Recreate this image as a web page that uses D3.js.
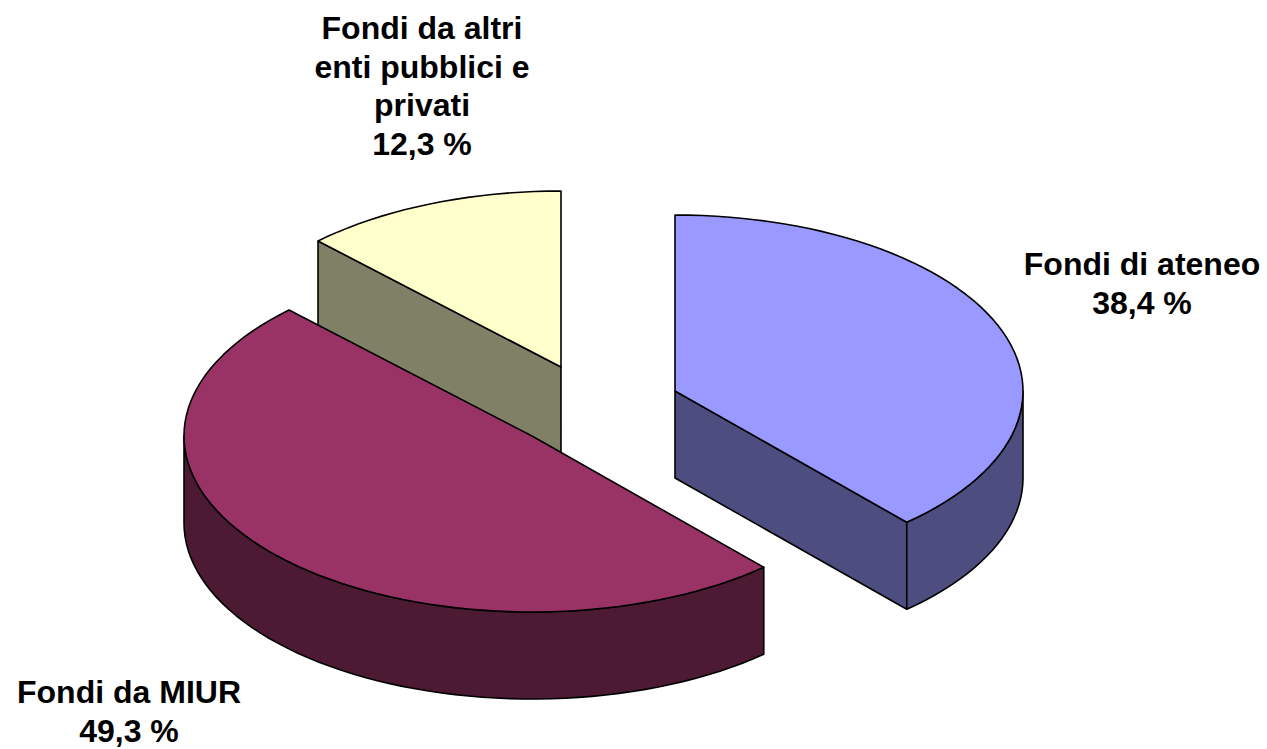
<!DOCTYPE html>
<html>
<head>
<meta charset="utf-8">
<script src="https://cdn.jsdelivr.net/npm/d3@7"></script>
<style>
html,body{margin:0;padding:0;background:#fff;overflow:hidden}
svg{display:block}
text{font-family:"Liberation Sans",Arial,sans-serif;font-weight:bold;fill:#000}
</style>
</head>
<body>
<svg id="chart" width="1267" height="749"></svg>
<script>
const categories = ["Fondi di ateneo", "Fondi da MIUR", "Fondi da altri enti pubblici e privati"];
const values = [38.4, 49.3, 12.3];
const valueLabels = ["38,4 %", "49,3 %", "12,3 %"];
const labelLines = [["Fondi di ateneo"], ["Fondi da MIUR"], ["Fondi da altri", "enti pubblici e", "privati"]];
const topColors = ["#9999FF", "#993366", "#FFFFCC"];
const sideColors = ["#4D4D80", "#4D1A33", "#808066"];

const W = 1267, H = 749;
const RX = 348, RY = 176, DEPTH = 87;
const centers = [[675, 391], [532, 436], [561, 367]];
const labelPos = [[1142, 275], [129, 703], [422, 39]];
const LINE = 38.5;

const svg = d3.select("#chart");
const arcs = d3.pie().value(d => d).sort(null)(values);

// unit-circle to screen scales
const sx = d3.scaleLinear().domain([-1, 1]).range([-RX, RX]);
const sy = d3.scaleLinear().domain([-1, 1]).range([-RY, RY]);
const line = d3.line().x(d => d[0]).y(d => d[1]);

function rim(c, a0, a1, dz) {
  const n = Math.max(2, Math.ceil(Math.abs(a1 - a0) / 0.04));
  return d3.range(n + 1).map(i => {
    const a = a0 + (a1 - a0) * i / n;
    return [c[0] + sx(Math.sin(a)), c[1] + sy(-Math.cos(a)) + dz];
  });
}
const drawOrder = [2, 0, 1];
const PI = Math.PI;

drawOrder.forEach(i => {
  const d = arcs[i], c = centers[i];
  const g = svg.append("g");
  const s = {fill: sideColors[i], stroke: "#000", "stroke-width": 1.6, "stroke-linejoin": "round"};
  const paint = (pts, attrs) => {
    const p = g.append("path").attr("d", line(pts) + "Z");
    Object.entries(attrs).forEach(([k, v]) => p.attr(k, v));
  };

  // cut walls that face the viewer
  [d.startAngle, d.endAngle].forEach((a, k) => {
    const edge = rim(c, a, a, 0)[0];
    const sinA = Math.sin(a);
    const facing = k === 0 ? sinA < -1e-6 : sinA > 1e-6;
    if (facing) {
      paint([[c[0], c[1]], edge, [edge[0], edge[1] + DEPTH], [c[0], c[1] + DEPTH]], s);
    }
  });

  // outer rim wall on the front half of the ellipse
  const a0 = Math.max(d.startAngle, PI / 2), a1 = Math.min(d.endAngle, 3 * PI / 2);
  if (a1 > a0) {
    paint(rim(c, a0, a1, 0).concat(rim(c, a1, a0, DEPTH)), s);
  }

  // top face
  paint([c].concat(rim(c, d.startAngle, d.endAngle, 0)),
        {fill: topColors[i], stroke: "#000", "stroke-width": 1.6, "stroke-linejoin": "round"});
});

categories.forEach((name, i) => {
  const lines = labelLines[i].concat([valueLabels[i]]);
  const t = svg.append("text").attr("text-anchor", "middle").attr("font-size", 32);
  lines.forEach((l, k) => {
    t.append("tspan").attr("x", labelPos[i][0]).attr("y", labelPos[i][1] + k * LINE).text(l);
  });
});
</script>
</body>
</html>
